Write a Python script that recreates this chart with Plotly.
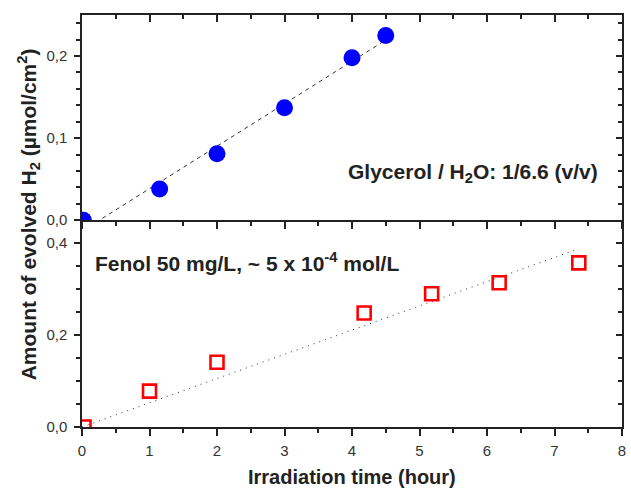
import numpy as np
import plotly.graph_objects as go

# Top panel: glycerol / water
glyc_time = [0.02, 1.15, 2.0, 3.0, 4.0, 4.5]
glyc_h2 = [0.0, 0.038, 0.081, 0.137, 0.198, 0.225]

# Bottom panel: phenol
fenol_time = [0.03, 1.0, 2.0, 4.18, 5.18, 6.18, 7.36]
fenol_h2 = [0.0, 0.078, 0.141, 0.248, 0.290, 0.314, 0.357]

x_ticks = [0, 1, 2, 3, 4, 5, 6, 7, 8]

# Fits
gx = np.array(glyc_time); gy = np.array(glyc_h2)
g_slope, g_int = np.polyfit(gx, gy, 1)
g_fit_x = np.linspace(0, gx.max(), 50)
g_fit_y = g_slope * g_fit_x + g_int

fx = np.array(fenol_time); fy = np.array(fenol_h2)
f_slope = (fx * fy).sum() / (fx * fx).sum()
f_fit_x = np.linspace(0, 7.3, 50)
f_fit_y = f_slope * f_fit_x

LINE = "#222222"
TICKC = "#222222"
FONT = "Liberation Sans, Arial, sans-serif"

fig = go.Figure()

fig.add_trace(go.Scatter(x=g_fit_x, y=g_fit_y, mode="lines", xaxis="x2", yaxis="y2",
                         line=dict(color="#333", width=1, dash="4px,4px"), showlegend=False, hoverinfo="skip"))
fig.add_trace(go.Scatter(x=glyc_time, y=glyc_h2, mode="markers", xaxis="x2", yaxis="y2",
                         marker=dict(symbol="circle", size=17, color="#0000FF"), cliponaxis=True, showlegend=False))

fig.add_trace(go.Scatter(x=f_fit_x, y=f_fit_y, mode="lines", xaxis="x", yaxis="y",
                         line=dict(color="#333", width=1, dash="1px,5px"), showlegend=False, hoverinfo="skip"))
fig.add_trace(go.Scatter(x=fenol_time, y=fenol_h2, mode="markers", xaxis="x", yaxis="y",
                         marker=dict(symbol="square-open", size=13, color="#FF0000", line=dict(width=2.6, color="#FF0000")),
                         cliponaxis=True, showlegend=False))

# dummy traces for mirror axes
fig.add_trace(go.Scatter(x=[0], y=[0], xaxis="x3", yaxis="y3", mode="markers", marker=dict(opacity=0),
                         showlegend=False, hoverinfo="skip"))
fig.add_trace(go.Scatter(x=[0], y=[0], xaxis="x4", yaxis="y4", mode="markers", marker=dict(opacity=0),
                         showlegend=False, hoverinfo="skip"))

common = dict(showline=True, linecolor=LINE, linewidth=1.5, showgrid=False, zeroline=False,
              tickcolor=TICKC, tickwidth=1.5, tickfont=dict(family=FONT, size=15, color="#333"))

BOT = [0, 0.502]
TOP = [0.502, 1]

fig.update_layout(
    width=631, height=492,
    margin=dict(l=82, r=5, t=15, b=65),
    plot_bgcolor="white", paper_bgcolor="white",
    separators=",.",
    font=dict(family=FONT, color="#222"),
    xaxis=dict(**common, domain=[0, 1], anchor="y", range=[0, 8], tickvals=x_ticks,
               ticks="outside", ticklen=7, ticklabelstandoff=2,
               minor=dict(dtick=0.5, tick0=0, ticks="outside", ticklen=4, tickcolor=TICKC, tickwidth=1.5)),
    xaxis2=dict(**common, domain=[0, 1], anchor="y2", range=[0, 8], tickvals=x_ticks, showticklabels=False,
                ticks="outside", ticklen=7,
                minor=dict(dtick=0.5, tick0=0, ticks="outside", ticklen=4, tickcolor=TICKC, tickwidth=1.5)),
    xaxis4=dict(**common, overlaying="x2", anchor="y4", side="top", range=[0, 8], tickvals=x_ticks,
                showticklabels=False, ticks="inside", ticklen=7,
                minor=dict(dtick=0.5, tick0=0, ticks="inside", ticklen=4, tickcolor=TICKC, tickwidth=1.5)),
    yaxis=dict(**common, domain=BOT, anchor="x", range=[0, 0.45], dtick=0.2, tick0=0, tickformat=".1f",
               ticks="outside", ticklen=6, ticklabelstandoff=4,
               minor=dict(dtick=0.05, tick0=0, ticks="outside", ticklen=4, tickcolor=TICKC, tickwidth=1.5)),
    yaxis2=dict(**common, domain=TOP, anchor="x2", range=[0, 0.25], dtick=0.1, tick0=0, tickformat=".1f",
                ticks="outside", ticklen=6, ticklabelstandoff=4,
                minor=dict(dtick=0.02, tick0=0, ticks="outside", ticklen=4, tickcolor=TICKC, tickwidth=1.5)),
    yaxis3=dict(**common, overlaying="y", anchor="x3", side="right", range=[0, 0.45], dtick=0.2, tick0=0,
                showticklabels=False, ticks="inside", ticklen=6,
                minor=dict(dtick=0.05, tick0=0, ticks="inside", ticklen=4, tickcolor=TICKC, tickwidth=1.5)),
    yaxis4=dict(**common, overlaying="y2", anchor="x4", side="right", range=[0, 0.25], dtick=0.1, tick0=0,
                showticklabels=False, ticks="inside", ticklen=6,
                minor=dict(dtick=0.02, tick0=0, ticks="inside", ticklen=4, tickcolor=TICKC, tickwidth=1.5)),
)
# bottom panel top mirror: ticks only, no separate line (shared with top panel's base line)
fig.update_layout(xaxis3=dict(overlaying="x", anchor="y3", side="top", range=[0, 8], tickvals=x_ticks,
                              showline=False, showgrid=False, zeroline=False, showticklabels=False,
                              ticks="inside", ticklen=7, tickcolor=TICKC, tickwidth=1.5,
                              minor=dict(dtick=0.5, tick0=0, ticks="inside", ticklen=4, tickcolor=TICKC, tickwidth=1.5)))

fig.add_annotation(text="<b>Glycerol / H<sub>2</sub>O: 1/6.6 (v/v)</b>", xref="x2", yref="y2",
                   x=7.68, y=0.058, xanchor="right", yanchor="middle", showarrow=False,
                   font=dict(family=FONT, size=21, color="#222"))
fig.add_annotation(text="<b>Fenol 50 mg/L, ~ 5 x 10<sup>-4</sup> mol/L</b>", xref="x", yref="y",
                   x=0.16, y=0.36, xanchor="left", yanchor="middle", showarrow=False,
                   font=dict(family=FONT, size=21, color="#222"))
fig.add_annotation(text="<b>Amount of evolved H<sub>2</sub> (µmol/cm<sup>2</sup>)</b>", xref="paper", yref="paper",
                   x=-0.099, y=0.515, xanchor="center", yanchor="middle", textangle=-90, showarrow=False,
                   font=dict(family=FONT, size=21, color="#222"))
fig.add_annotation(text="<b>Irradiation time (hour)</b>", xref="paper", yref="paper",
                   x=0.5, y=-0.121, xanchor="center", yanchor="middle", showarrow=False,
                   font=dict(family=FONT, size=20, color="#222"))

fig.write_html("out.html", config={"displayModeBar": False},
               post_script="document.body.style.margin='0';document.body.style.overflow='hidden';")
